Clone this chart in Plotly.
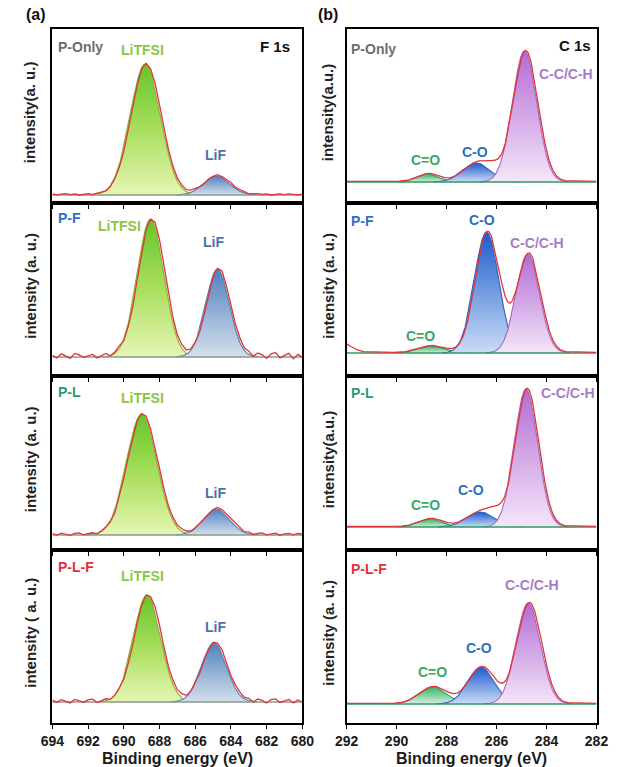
import numpy as np
import plotly.graph_objects as go

W, H = 621, 767

# ---------------- data ----------------
samples = ["P-Only", "P-F", "P-L", "P-L-F"]
sample_colors = ["#6e6e6e", "#2f6fc2", "#2a9a72", "#e0303e"]

# F 1s fitted components: centre (eV), height (a.u.), FWHM (eV)
f1s_names = ["LiTFSI", "LiF"]
f1s_center = {"P-Only": [688.8, 684.8], "P-F": [688.5, 684.75],
              "P-L": [689.0, 684.8], "P-L-F": [688.7, 684.95]}
f1s_height = {"P-Only": [131, 19], "P-F": [138, 88],
              "P-L": [121, 26], "P-L-F": [107, 59]}
f1s_fwhm = {"P-Only": [2.0, 1.7], "P-F": [1.75, 1.55],
            "P-L": [2.0, 1.7], "P-L-F": [1.8, 1.65]}

# F 1s measured-minus-fit residual, 694 -> 680 eV in 0.25 eV steps
f1s_residual = {
    "P-Only": [0.4, -0.5, 0.3, 0.8, -0.2, 0.5, -0.6, 0.2, 0.7, -0.3,
               0.4, 0.9, -0.4, 0.2, 0.6, 0.3, -0.5, 0.4, 0.2, -0.3,
               0.5, 0.1, -0.2, 0.3, 0.0, 0.2, -0.1, 0.3, 0.1, 0.6,
               -0.2, 0.4, 0.7, 0.1, -0.4, 0.5, 0.3, 0.8, -0.2, 0.1,
               0.6, -0.3, 0.4, 0.2, -0.5, 0.3, 0.7, -0.1, 0.4, -0.6,
               0.2, 0.5, -0.3, 0.6, 0.1, -0.4, 0.3],
    "P-F": [1.0, -1.5, 2.5, 0.5, -2.0, 3.0, 1.5, -1.0, 0.5, 2.0,
            -1.5, 1.0, 2.5, -0.5, 1.5, 3.5, 0.5,
            1.0, -0.5, 0.8, 0.0, 0.5, -0.3, 0.6, 1.0, 0.4, -0.4,
            0.8, 0.3, 0.9, -0.2, 0.5, 1.2, 0.0, 0.6, -0.5, 0.8,
            0.4, 1.0, 0.2, -0.6, 0.9, 1.5, 0.5,
            2.0, -1.0, 3.0, 1.5, -2.0, 2.5, 4.0, -1.5, 1.0, 3.0, -2.5, 2.0, -1.0],
    "P-L": [0.8, -0.6, 1.2, 0.3, -1.0, 0.9, 1.5, -0.4, 0.6, 1.1,
            -0.8, 0.5, 1.3, 0.2, -0.5, 0.9, 0.4,
            0.7, -0.2, 0.5, 0.1, 0.3, -0.3, 0.4, 0.6, 0.2, -0.2,
            0.5, 0.3, 0.7, 0.1, -0.3, 0.6, 0.9, 0.2, -0.4, 0.5,
            1.0, 0.3, -0.2, 0.6, 0.8, 0.4, -0.3,
            1.2, -0.7, 0.9, 1.5, -0.5, 0.8, 1.3, -1.0, 0.6, 1.1, -0.4, 0.9, 0.3],
    "P-L-F": [1.2, -1.0, 1.8, 0.5, -1.5, 2.0, 0.8, -0.8, 1.5, 2.2,
              -1.2, 0.6, 1.7, -0.4, 1.0, 2.0, 0.3,
              0.8, -0.5, 0.6, 0.2, 0.4, -0.3, 0.7, 1.0, 0.3, -0.2,
              0.6, 0.4, 1.0, -0.3, 0.5, 1.4, 0.2, 0.7, -0.4, 0.9,
              0.5, 1.2, 0.1, -0.5, 0.8, 1.3, 0.4,
              1.6, -1.2, 2.2, 0.9, -1.6, 1.8, 2.5, -1.0, 0.7, 2.0, -1.5, 1.4, -0.6],
}

# C 1s fitted components
c1s_names = ["C=O", "C-O", "C-C/C-H"]
c1s_center = {"P-Only": [288.75, 286.8, 284.88], "P-F": [288.6, 286.4, 284.75],
              "P-L": [288.65, 286.65, 284.82], "P-L-F": [288.55, 286.62, 284.73]}
c1s_height = {"P-Only": [8, 19, 131], "P-F": [7, 121, 99],
              "P-L": [8, 15, 138], "P-L-F": [17, 37, 101]}
c1s_fwhm = {"P-Only": [1.0, 1.3, 1.15], "P-F": [1.2, 1.15, 1.1],
            "P-L": [1.1, 1.3, 1.1], "P-L-F": [1.3, 1.25, 1.15]}

# measured-envelope features not covered by the fit (centre, height, FWHM)
c1s_extra = {"P-Only": [(286.1, 7, 0.8)], "P-F": [(292.3, 11, 1.0)],
             "P-L": [(286.0, 8, 0.8)], "P-L-F": []}

f1s_ticks = [694, 692, 690, 688, 686, 684, 682, 680]
c1s_ticks = [292, 290, 288, 286, 284, 282]

# ---------------- styles ----------------
comp_style = {
    "LiTFSI": dict(line="#86b232", scale=[[0, "#e6f6b4"], [0.5, "#a9de5c"], [1, "#66c52a"]], label="#8cc63f"),
    "LiF": dict(line="#5a7fa9", scale=[[0, "#d5e0ec"], [1, "#5081c0"]], label="#4a74a8"),
    "C-C/C-H": dict(line="#a06cbc", scale=[[0, "#f4e6fa"], [1, "#b46bd4"]], label="#a77bc8"),
    "C-O": dict(line="#2a62c0", scale=[[0, "#cadcf6"], [1, "#1d5ccc"]], label="#2a6fc0"),
    "C=O": dict(line="#2fa060", scale=[[0, "#d2f0df"], [1, "#3cb268"]], label="#38a868"),
}
RED = "#e2343c"
FONT = "Liberation Sans"

# panel geometry (pixels)
col_x = [(42, 302), (348, 608)]
row_y = [(29, 203), (203, 376), (376, 550), (550, 723)]
base_px = [[8, 19, 15, 21], [21, 23, 23, 19]]  # baseline height above panel bottom


def gauss(x, c, h, w):
    s = w / 2.3548
    return h * np.exp(-0.5 * ((x - c) / s) ** 2)


fig = go.Figure()
annotations = []


def P(x, y):
    return x / W, 1 - y / H


for col in range(2):
    for row in range(4):
        idx = col * 4 + row + 1
        xa = "x" if idx == 1 else f"x{idx}"
        ya = "y" if idx == 1 else f"y{idx}"
        s = samples[row]
        if col == 0:
            xr = (694, 680)
            names = f1s_names
            cen, hei, fw = f1s_center[s], f1s_height[s], f1s_fwhm[s]
            extra = []
            shift = -0.06
            base_col = "#8a9a8a"
            res = np.array(f1s_residual[s])
            xm = xr[0] - 0.25 * np.arange(len(res))
        else:
            xr = (292, 282)
            names = c1s_names
            cen, hei, fw = c1s_center[s], c1s_height[s], c1s_fwhm[s]
            extra = c1s_extra[s]
            shift = -0.05
            base_col = "#2e9a5c"
            xm = np.linspace(xr[1], xr[0], 700)
            res = np.zeros_like(xm)
        x = np.linspace(xr[1], xr[0], 700)
        env = np.zeros_like(xm)
        for n, c, h, w in zip(names, cen, hei, fw):
            y = gauss(x, c, h, w)
            env += gauss(xm, c + shift, h, w)
            m = y > 0.15
            st = comp_style[n]
            fig.add_trace(go.Scatter(
                x=x[m], y=y[m], mode="lines", xaxis=xa, yaxis=ya,
                line=dict(color=st["line"], width=1.1),
                fill="tozeroy",
                fillgradient=dict(type="vertical", colorscale=st["scale"]),
                showlegend=False, hoverinfo="skip"))
        for c, h, w in extra:
            env += gauss(xm, c, h, w)
        fig.add_trace(go.Scatter(x=[xr[0], xr[1]], y=[0, 0], mode="lines",
                                 xaxis=xa, yaxis=ya,
                                 line=dict(color=base_col, width=1.4),
                                 showlegend=False, hoverinfo="skip"))
        fig.add_trace(go.Scatter(x=xm, y=env + res + 0.6, mode="lines", xaxis=xa, yaxis=ya,
                                 line=dict(color=RED, width=1.3),
                                 showlegend=False, hoverinfo="skip"))

        x0, x1 = col_x[col]
        y0, y1 = row_y[row]
        b = base_px[col][row]
        hpx = y1 - y0
        axis_common = dict(showgrid=False, zeroline=False, showline=True,
                           linecolor="black", linewidth=2, mirror=True)
        fig.layout[("xaxis" if idx == 1 else f"xaxis{idx}")] = dict(
            domain=[x0 / W, x1 / W], range=list(xr), anchor=ya,
            tickvals=f1s_ticks if col == 0 else c1s_ticks,
            ticks="outside", ticklen=4, tickwidth=1.2, tickcolor="black",
            showticklabels=(row == 3),
            tickfont=dict(family=FONT, size=14, color="#1a1a1a", weight="bold"),
            **axis_common)
        fig.layout[("yaxis" if idx == 1 else f"yaxis{idx}")] = dict(
            domain=[1 - y1 / H, 1 - y0 / H], range=[-b, hpx - b], anchor=xa,
            showticklabels=False, ticks="", **axis_common)

# ---------------- text ----------------
def add_text(x, y, text, color, size=15, xanchor="center", angle=0):
    ax, ay = P(x, y)
    annotations.append(dict(x=ax, y=ay, xref="paper", yref="paper", text=text,
                            showarrow=False, xanchor=xanchor, yanchor="middle",
                            textangle=angle, borderpad=0,
                            font=dict(family=FONT, size=size, color=color, weight="bold")))


add_text(25, 14, "(a)", "#111", 16)
add_text(329, 14, "(b)", "#111", 16)
add_text(290, 47, "F 1s", "#111", 15, "right")
add_text(603, 45, "C 1s", "#111", 15, "right")

ylab_left = ["intensity(a. u.)", "intensity (a. u.)", "intensity (a. u.)", "intensity ( a. u.)"]
ylab_right = ["intensity(a.u.)", "intensity (a. u.)", "intensity(a.u.)", "intensity (a. u.)"]
for r in range(4):
    yc = (row_y[r][0] + row_y[r][1]) / 2 - 4
    add_text(19, yc, ylab_left[r], "#222", 15, angle=-90)
    add_text(329, yc, ylab_right[r], "#222", 15, angle=-90)

for r, s in enumerate(samples):
    add_text(47, [47, 218, 392, 567][r], s, sample_colors[r], 14, "left")
    add_text(352, [49, 221, 393, 569][r], s, sample_colors[r], 14, "left")

# component labels
f1s_lab_pos = {"P-Only": [(136, 50), (212, 155)], "P-F": [(112, 226), (210, 242)],
               "P-L": [(136, 398), (212, 493)], "P-L-F": [(136, 576), (212, 627)]}
c1s_lab_pos = {"P-Only": [(430, 160), (482, 152), (576, 74)],
               "P-F": [(425, 336), (489, 220), (546, 243)],
               "P-L": [(430, 505), (477, 490), (578, 393)],
               "P-L-F": [(437, 672), (486, 648), (541, 585)]}
for s in samples:
    for n, (x, y) in zip(f1s_names, f1s_lab_pos[s]):
        add_text(x, y, n, comp_style[n]["label"], 14)
    for n, (x, y) in zip(c1s_names, c1s_lab_pos[s]):
        add_text(x, y, n, comp_style[n]["label"], 14)

add_text(172, 758, "Binding energy (eV)", "#1a1a1a", 16)
add_text(478, 758, "Binding energy (eV)", "#1a1a1a", 16)

fig.update_layout(width=W, height=H, margin=dict(l=0, r=0, t=0, b=0),
                  paper_bgcolor="white", plot_bgcolor="white",
                  annotations=annotations, showlegend=False)
fig.write_html("out.html")
